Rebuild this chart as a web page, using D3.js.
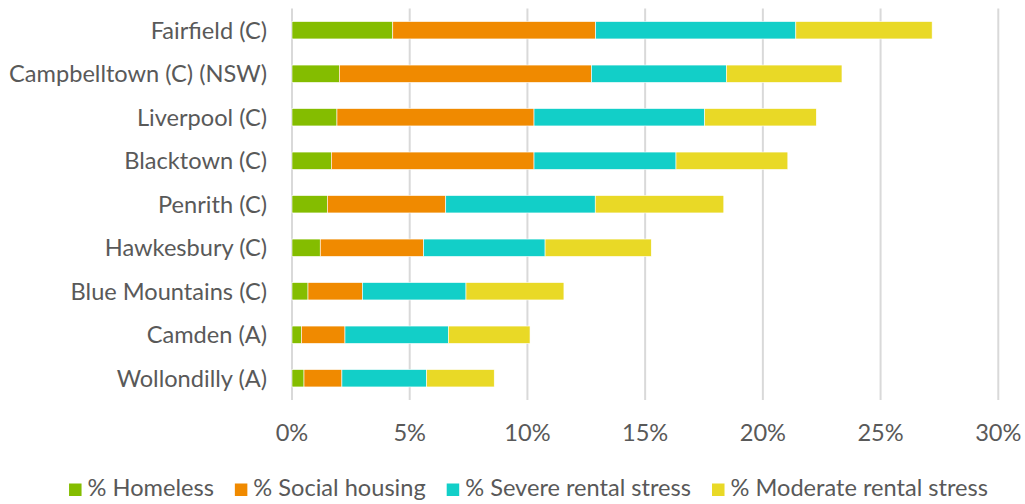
<!DOCTYPE html>
<html>
<head>
<meta charset="utf-8">
<script src="https://cdn.jsdelivr.net/npm/d3@7"></script>
<style>
  body { margin: 0; background: #fff; }
  text { font-family: Lato, "Open Sans", sans-serif; fill: #595959; }
</style>
</head>
<body>
<svg id="chart" width="1025" height="504"></svg>
<script>
// data (percent of households)
const councils = ["Fairfield (C)", "Campbelltown (C) (NSW)", "Liverpool (C)", "Blacktown (C)",
  "Penrith (C)", "Hawkesbury (C)", "Blue Mountains (C)", "Camden (A)", "Wollondilly (A)"];
const homeless = [4.28, 2.01, 1.91, 1.67, 1.50, 1.20, 0.68, 0.40, 0.51];
const socialHousing = [8.62, 10.71, 8.37, 8.61, 5.03, 4.39, 2.31, 1.85, 1.61];
const severeStress = [8.50, 5.73, 7.25, 6.03, 6.35, 5.16, 4.40, 4.39, 3.60];
const moderateStress = [5.79, 4.91, 4.74, 4.75, 5.46, 4.51, 4.16, 3.47, 2.87];
const seriesNames = ["% Homeless", "% Social housing", "% Severe rental stress", "% Moderate rental stress"];
const seriesColors = ["#84bd00", "#f08a00", "#12cfc8", "#e9d926"];
const xTicks = [0, 5, 10, 15, 20, 25, 30];

const svg = d3.select("#chart");
const fontSize = 23.6;

const rows = councils.map((c, i) => ({
  council: c,
  s0: homeless[i], s1: socialHousing[i], s2: severeStress[i], s3: moderateStress[i]
}));
const stacked = d3.stack().keys(["s0", "s1", "s2", "s3"])(rows);

const x = d3.scaleLinear().domain([0, 30]).range([292, 998.3]);
const y = d3.scaleBand().domain(councils).range([8.5, 400]).paddingInner(0.6).paddingOuter(0.3);

// gridlines
svg.append("g").selectAll("line").data(xTicks).join("line")
  .attr("x1", d => x(d)).attr("x2", d => x(d))
  .attr("y1", 8.5).attr("y2", 400)
  .attr("stroke", "#d9d9d9").attr("stroke-width", 2);

// bars
svg.append("g").selectAll("g").data(stacked).join("g")
  .attr("fill", (d, i) => seriesColors[i])
  .selectAll("rect").data(d => d).join("rect")
  .attr("x", d => x(d[0]))
  .attr("width", d => x(d[1]) - x(d[0]))
  .attr("y", d => y(d.data.council))
  .attr("height", y.bandwidth())
  .attr("stroke", "#fff").attr("stroke-width", 0.6);

// category labels
svg.append("g").selectAll("text").data(councils).join("text")
  .attr("x", 267).attr("y", d => y(d) + y.bandwidth() / 2)
  .attr("dy", "0.36em")
  .attr("text-anchor", "end")
  .style("font-size", fontSize + "px")
  .text(d => d);

// x axis labels
svg.append("g").selectAll("text").data(xTicks).join("text")
  .attr("x", d => x(d)).attr("y", 441)
  .attr("text-anchor", "middle")
  .style("font-size", fontSize + "px")
  .text(d => d + "%");

// legend
const legend = svg.append("g");
let lx = 0;
seriesNames.forEach((name, i) => {
  const item = legend.append("g").attr("transform", `translate(${lx},0)`);
  item.append("rect").attr("x", 0).attr("y", 483.5).attr("width", 12.5).attr("height", 12.5)
    .attr("fill", seriesColors[i]);
  const t = item.append("text").attr("x", 18.5).attr("y", 496)
    .style("font-size", fontSize + "px").text(name);
  lx += 18.5 + t.node().getComputedTextLength() + 21;
});
const legendWidth = lx - 21;
legend.attr("transform", `translate(${528.5 - legendWidth / 2},0)`);
</script>
</body>
</html>
